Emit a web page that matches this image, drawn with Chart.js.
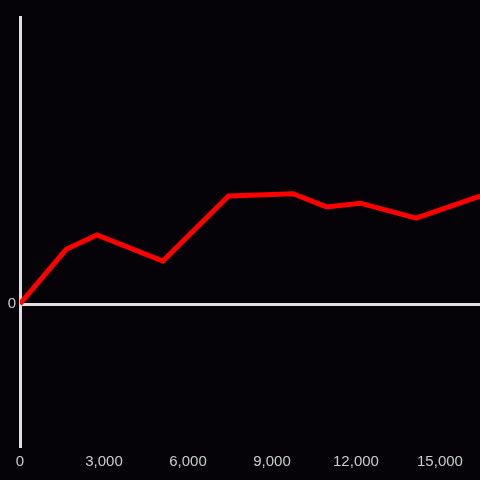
<!DOCTYPE html>
<html>
<head>
<meta charset="utf-8">
<script src="https://cdn.jsdelivr.net/npm/chart.js@4"></script>
<style>
  html, body { margin: 0; padding: 0; background: #050307; }
  #wrap { width: 480px; height: 480px; }
</style>
</head>
<body>
<div id="wrap"><canvas id="c"></canvas></div>
<script>
// x positions and values of the single series
const xValues = [0, 1650, 2750, 5100, 7450, 9750, 10950, 12150, 14150, 16430];
const yValues = [0, 19, 24, 14.9, 37.5, 38.3, 33.7, 35, 29.8, 37.5];

const xTicks = [0, 3000, 6000, 9000, 12000, 15000];
const xMin = 0, xMax = 16430;
const yMin = -50, yMax = 100, yStep = 50;

const axisColor = '#e0e0e0';

const ctx = document.getElementById('c').getContext('2d');
const points = xValues.map((x, i) => ({ x: x, y: yValues[i] }));

new Chart(ctx, {
  type: 'line',
  data: {
    datasets: [{
      data: points,
      borderColor: '#ff0000',
      borderWidth: 5,
      pointRadius: 0,
      fill: false,
      tension: 0
    }]
  },
  options: {
    responsive: true,
    maintainAspectRatio: false,
    animation: false,
    layout: { padding: { top: 16, right: 0, left: 0, bottom: 0 } },
    plugins: { legend: { display: false }, tooltip: { enabled: false } },
    scales: {
      x: {
        type: 'linear',
        min: xMin,
        max: xMax,
        border: { display: false },
        grid: {
          drawTicks: false,
          color: c => c.tick && c.tick.value === 0 ? axisColor : 'transparent',
          lineWidth: 3
        },
        afterBuildTicks: s => { s.ticks = xTicks.map(v => ({ value: v })); },
        ticks: {
          autoSkip: false,
          color: '#cccccc',
          font: { family: 'Liberation Sans', size: 15 },
          padding: 5,
          maxRotation: 0,
          callback: v => v.toLocaleString('en-US')
        },
        afterFit: s => { s.height = 32; s.paddingRight = 0; }
      },
      y: {
        min: yMin,
        max: yMax,
        border: { display: false },
        grid: {
          drawTicks: false,
          color: c => c.tick && c.tick.value === 0 ? axisColor : 'transparent',
          lineWidth: 3
        },
        ticks: {
          stepSize: yStep,
          color: '#cccccc',
          font: { family: 'Liberation Sans', size: 15 },
          padding: 4,
          callback: v => v === 0 ? '0' : ''
        },
        afterFit: s => { s.width = 20; }
      }
    }
  }
});
</script>
</body>
</html>
